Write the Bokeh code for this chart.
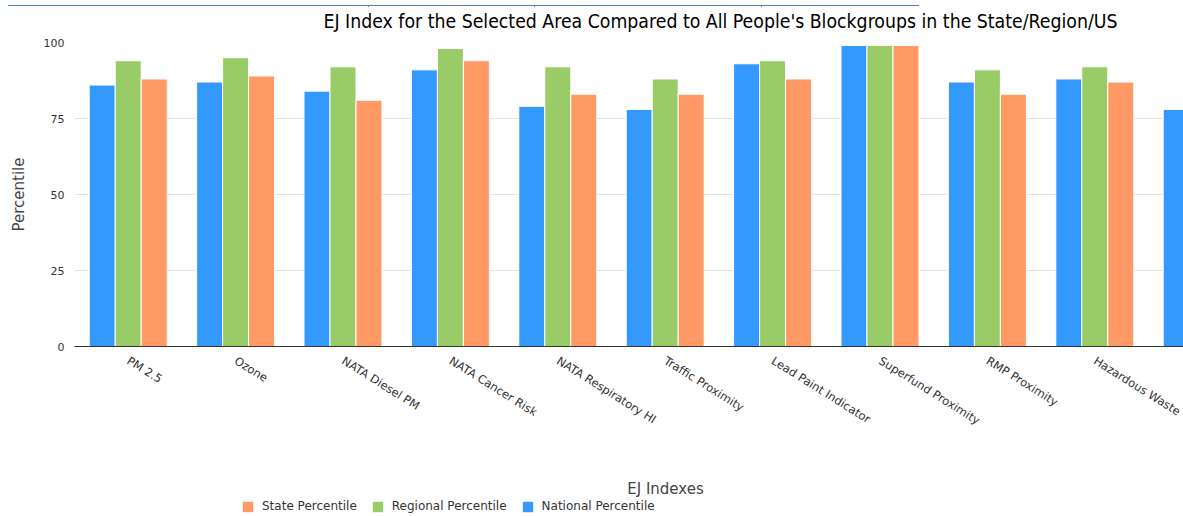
from bokeh.plotting import figure
from bokeh.layouts import column
from bokeh.models import Range1d, FixedTicker, ColumnDataSource, Legend, LegendItem, Label, Div
from bokeh.transform import dodge
from bokeh.embed import file_html
from bokeh.resources import INLINE

categories = ["PM 2.5", "Ozone", "NATA Diesel PM", "NATA Cancer Risk", "NATA Respiratory HI",
              "Traffic Proximity", "Lead Paint Indicator", "Superfund Proximity", "RMP Proximity",
              "Hazardous Waste", "Wastewater Discharge Indicator"]
national = [86, 87, 84, 91, 79, 78, 93, 99, 87, 88, 78]
regional = [94, 95, 92, 98, 92, 88, 94, 99, 91, 92, 86]
state = [88, 89, 81, 94, 83, 83, 88, 99, 83, 87, 80]
y_ticks = [0, 25, 50, 75, 100]
title_text = "EJ Index for the Selected Area Compared to All People's Blockgroups in the State/Region/US"
series_labels = ["State Percentile", "Regional Percentile", "National Percentile"]

BLUE, GREEN, ORANGE = "#3399FF", "#99CC66", "#FF9966"
TABLE_BLUE = "#4f81bd"

xs = [i + 0.5 for i in range(len(categories))]
src = ColumnDataSource(dict(x=xs, national=national, regional=regional, state=state))

# fragment of the table above the chart
top_html = (
    '<div style="position:relative;width:1183px;height:7px;overflow:hidden;">'
    f'<div style="position:absolute;left:8px;top:-5px;width:911px;height:6px;'
    f'border-left:1px solid {TABLE_BLUE};border-right:2px solid {TABLE_BLUE};'
    f'border-bottom:2px solid {TABLE_BLUE};"></div>'
    f'<div style="position:absolute;left:368px;top:-3px;width:1px;height:5px;background:{TABLE_BLUE};"></div>'
    f'<div style="position:absolute;left:534px;top:-3px;width:1px;height:5px;background:{TABLE_BLUE};"></div>'
    f'<div style="position:absolute;left:761px;top:-3px;width:1px;height:5px;background:{TABLE_BLUE};"></div>'
    '</div>'
)
top = Div(text=top_html, width=1183, height=7, margin=0)

# title strip (frame aligned with the chart frame, x = page pixels)
HT = 27
t = figure(width=1183, height=HT, output_backend="svg", toolbar_location=None,
           x_range=Range1d(74, 1183), y_range=Range1d(0, HT),
           x_axis_type=None, y_axis_type=None,
           min_border_left=74, min_border_right=0, min_border_top=0, min_border_bottom=0)
t.outline_line_color = None
t.xgrid.grid_line_color = None
t.ygrid.grid_line_color = None
t.add_layout(Label(x=323, y=(7 + HT) - 21, text=title_text, text_font="DejaVu Sans Condensed",
                   text_font_size="19.3px", text_color="#000000",
                   text_align="left", text_baseline="middle"))

p = figure(width=1183, height=428, output_backend="svg", toolbar_location=None,
           x_range=Range1d(0, 10.326), y_range=Range1d(0, 100),
           min_border_left=74, min_border_right=0, min_border_top=8, min_border_bottom=116)
p.outline_line_color = None
p.xgrid.grid_line_color = None
p.ygrid.grid_line_color = "#e3e3e3"
p.ygrid.ticker = FixedTicker(ticks=y_ticks)

w = 0.242
r_nat = p.vbar(x=dodge("x", -w, range=p.x_range), top="national", width=w, source=src,
               fill_color=BLUE, line_color="white", line_width=1)
r_reg = p.vbar(x=dodge("x", 0, range=p.x_range), top="regional", width=w, source=src,
               fill_color=GREEN, line_color="white", line_width=1)
r_sta = p.vbar(x=dodge("x", w, range=p.x_range), top="state", width=w, source=src,
               fill_color=ORANGE, line_color="white", line_width=1)

# x axis
p.xaxis.ticker = FixedTicker(ticks=xs)
p.xaxis.major_label_overrides = {x: c for x, c in zip(xs, categories)}
p.xaxis.major_label_orientation = -0.56
p.xaxis.major_tick_line_color = None
p.xaxis.minor_tick_line_color = None
p.xaxis.axis_line_color = "#333333"
p.xaxis.axis_line_width = 1
p.xaxis.major_label_text_font = "DejaVu Sans"
p.xaxis.major_label_text_font_size = "11.5px"
p.xaxis.major_label_text_color = "#333333"
p.xaxis.major_label_standoff = 7

# y axis
p.yaxis.ticker = FixedTicker(ticks=y_ticks)
p.yaxis.axis_line_color = None
p.yaxis.major_tick_line_color = None
p.yaxis.minor_tick_line_color = None
p.yaxis.major_label_text_font = "DejaVu Sans"
p.yaxis.major_label_text_font_size = "11px"
p.yaxis.major_label_text_color = "#333333"
p.yaxis.major_label_standoff = 4
p.yaxis.axis_label = "Percentile"
p.yaxis.axis_label_text_font = "DejaVu Sans"
p.yaxis.axis_label_text_font_size = "15px"
p.yaxis.axis_label_text_font_style = "normal"
p.yaxis.axis_label_text_color = "#444444"
p.yaxis.axis_label_standoff = 13

# bottom strip: x-axis title and legend
H2 = 54
q = figure(width=1183, height=H2, output_backend="svg", toolbar_location=None,
           x_range=Range1d(74, 1183), y_range=Range1d(0, H2),
           x_axis_type=None, y_axis_type=None,
           min_border_left=74, min_border_right=0, min_border_top=0, min_border_bottom=0)
q.outline_line_color = None
q.xgrid.grid_line_color = None
q.ygrid.grid_line_color = None

q.add_layout(Label(x=665, y=H2 - (488 - 462), text="EJ Indexes", text_font="DejaVu Sans",
                   text_font_size="15px", text_color="#444444",
                   text_align="center", text_baseline="middle"))

# legend proxies share the chart data; hidden here, only their legend swatches are shown
l_sta = q.vbar(x="x", top="state", width=0.01, source=src, fill_color=ORANGE, line_color=None,
               visible=False)
l_reg = q.vbar(x="x", top="regional", width=0.01, source=src, fill_color=GREEN, line_color=None,
               visible=False)
l_nat = q.vbar(x="x", top="national", width=0.01, source=src, fill_color=BLUE, line_color=None,
               visible=False)
legend = Legend(items=[LegendItem(label=series_labels[0], renderers=[l_sta]),
                       LegendItem(label=series_labels[1], renderers=[l_reg]),
                       LegendItem(label=series_labels[2], renderers=[l_nat])],
                location=(167, 3), orientation="horizontal",
                glyph_width=13, glyph_height=13, label_height=13, label_standoff=8, spacing=14,
                padding=0, margin=0, border_line_color=None, background_fill_alpha=0,
                inactive_fill_alpha=0,
                label_text_font="DejaVu Sans", label_text_font_size="12px", label_text_color="#333333")
q.add_layout(legend)

layout = column(top, t, p, q, spacing=0)
open("out.html", "w").write(file_html(layout, INLINE))
